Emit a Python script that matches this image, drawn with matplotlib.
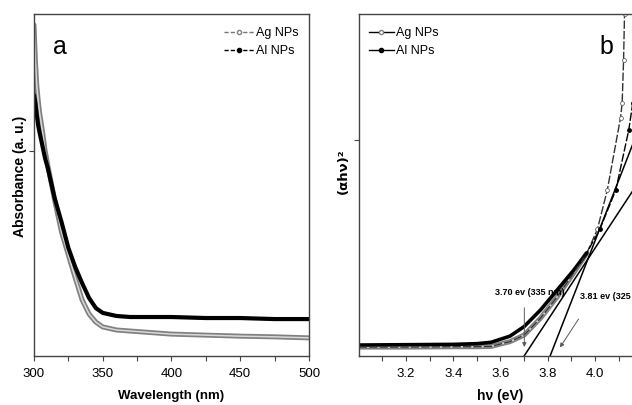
import matplotlib.pyplot as plt
import numpy as np
from matplotlib.lines import Line2D

# panel a: absorbance spectra (a.u., 0-1 scale)
wl = [300, 301, 302, 303, 304, 306, 308, 310, 315, 320, 325, 330, 335, 340,
      345, 350, 360, 370, 380, 400, 425, 450, 475, 500]
abs_ag = [0.968, 0.865, 0.792, 0.749, 0.713, 0.661, 0.602, 0.558, 0.456, 0.363,
          0.295, 0.228, 0.164, 0.123, 0.099, 0.085, 0.076, 0.073, 0.070, 0.064,
          0.061, 0.058, 0.056, 0.053]
abs_al = [0.763, 0.740, 0.705, 0.675, 0.655, 0.617, 0.579, 0.550, 0.462, 0.392,
          0.316, 0.260, 0.213, 0.170, 0.140, 0.126, 0.117, 0.114, 0.114, 0.114,
          0.111, 0.111, 0.108, 0.108]

# panel b: Tauc plot (a.u.)
ev_ag = [3.0, 3.2, 3.4, 3.5, 3.56, 3.64, 3.70, 3.77, 3.84, 3.91, 3.965, 4.01,
         4.052, 4.108, 4.115, 4.121, 4.125]
tauc_ag = [0.026, 0.026, 0.027, 0.027, 0.028, 0.042, 0.061, 0.111, 0.173, 0.243,
           0.300, 0.370, 0.485, 0.696, 0.740, 0.865, 1.0]
ev_al = [3.0, 3.2, 3.4, 3.5, 3.56, 3.64, 3.70, 3.77, 3.84, 3.91, 3.965, 4.02,
         4.088, 4.143, 4.16]
tauc_al = [0.032, 0.033, 0.034, 0.036, 0.040, 0.058, 0.086, 0.135, 0.193, 0.251,
           0.301, 0.370, 0.485, 0.661, 0.740]

# band gap tangents (x-intercept, slope)
gap_ag, slope_ag = 3.70, 1.05
gap_al, slope_al = 3.81, 1.77

plt.rcParams['font.family'] = ['Liberation Sans', 'DejaVu Sans']

fig = plt.figure(figsize=(6.32, 4.05), dpi=100)
ax1 = fig.add_axes([0.0538, 0.121, 0.4351, 0.8444])
ax2 = fig.add_axes([0.5676, 0.121, 0.4486, 0.8444])

for ax in (ax1, ax2):
    for s in ax.spines.values():
        s.set_color('#444444')
        s.set_linewidth(1.0)
    ax.tick_params(which='both', direction='out', length=3.5, width=0.8,
                   color='#444444', labelsize=9.5, pad=5)
    ax.tick_params(axis='y', labelleft=False)
    ax.set_ylim(0, 1)

# ---- panel a
ax1.plot(wl, abs_ag, color='0.5', lw=3.6, solid_capstyle='round')
ax1.plot(wl, abs_ag, color='0.85', lw=1.1)
ax1.plot(wl, abs_al, color='black', lw=3.0, solid_capstyle='round')
ax1.set_xlim(300, 500)
ax1.set_xticks([300, 350, 400, 450, 500])
ax1.set_xticks([325, 375, 425, 475], minor=True)
ax1.set_yticks([0.6])
ax1.text(0.095, 0.905, 'a', transform=ax1.transAxes, fontsize=18,
         ha='center', va='center')
h1 = [Line2D([], [], color='0.45', ls=(0, (3, 1.5)), lw=1, marker='o', ms=3,
             mfc='white', mec='0.5'),
      Line2D([], [], color='black', ls=(0, (3, 1.5)), lw=1, marker='o', ms=3,
             mfc='black', mec='black')]
ax1.legend(h1, ['Ag NPs', 'Al NPs'], loc='upper right', frameon=False,
           fontsize=9, handlelength=2.4, handletextpad=0.2,
           borderaxespad=0.4, labelspacing=0.45, bbox_to_anchor=(1.0, 0.99))

# ---- panel b
ev_ag_a = np.array(ev_ag)
ev_al_a = np.array(ev_al)
t_ag = np.array(tauc_ag)
t_al = np.array(tauc_al)
low_ag = ev_ag_a <= 3.97
low_al = ev_al_a <= 3.97
ax2.plot(ev_ag_a[low_ag], t_ag[low_ag], color='0.5', lw=3.6,
         solid_capstyle='round')
ax2.plot(ev_ag_a[low_ag], t_ag[low_ag], color='0.85', lw=1.1)
ax2.plot(ev_al_a[low_al], t_al[low_al], color='black', lw=2.6,
         solid_capstyle='round')
ax2.plot(ev_ag, tauc_ag, color='#333333', lw=1.0, ls=(0, (6, 1.5)),
         marker='o', ms=2.8, mfc='white', mec='0.4', mew=0.6,
         markevery=slice(11, None))
ax2.plot(ev_al, tauc_al, color='black', lw=1.0, ls=(0, (6, 1.5)),
         marker='o', ms=2.5, mfc='black', mec='black',
         markevery=slice(11, None))

xt = np.array([3.0, 4.2])
ax2.plot(xt, slope_ag * (xt - gap_ag), color='black', lw=1.1)
ax2.plot(xt, slope_al * (xt - gap_al), color='black', lw=1.1)

ax2.annotate('', xy=(3.701, 0.018), xytext=(3.701, 0.149),
             arrowprops=dict(arrowstyle='-|>', color='0.35', lw=0.7,
                             mutation_scale=6))
ax2.annotate('', xy=(3.845, 0.018), xytext=(3.937, 0.115),
             arrowprops=dict(arrowstyle='-|>', color='0.35', lw=0.7,
                             mutation_scale=6))
ax2.text(3.725, 0.187, '3.70 ev (335 nm)', fontsize=6.5, fontweight='bold',
         ha='center', va='center')
ax2.text(3.937, 0.175, '3.81 ev (325 nm)', fontsize=6.5, fontweight='bold',
         ha='left', va='center')

ax2.set_xlim(3.0, 4.2)
ax2.set_xticks([3.2, 3.4, 3.6, 3.8, 4.0])
ax2.set_xticks([3.1, 3.3, 3.5, 3.7, 3.9, 4.1], minor=True)
ax2.set_yticks([0.632])
ax2.text(0.875, 0.905, 'b', transform=ax2.transAxes, fontsize=18,
         ha='center', va='center')
h2 = [Line2D([], [], color='black', lw=1, marker='o', ms=3,
             mfc='white', mec='0.5'),
      Line2D([], [], color='black', lw=1, marker='o', ms=3,
             mfc='black', mec='black')]
ax2.legend(h2, ['Ag NPs', 'Al NPs'], loc='upper left', frameon=False,
           fontsize=9, handlelength=2.0, handletextpad=0.2,
           borderaxespad=0.4, labelspacing=0.45, bbox_to_anchor=(0.0, 0.99))

# axis labels
fig.text(20 / 632, 1 - 176 / 405, 'Absorbance (a. u.)', rotation=90,
         ha='center', va='center', fontsize=10, fontweight='bold')
fig.text(343 / 632, 1 - 171 / 405, '(αhν)²', rotation=90,
         ha='center', va='center', fontsize=9.5, fontweight='bold',
         family=['DejaVu Sans'])
fig.text(171 / 632, 1 - 396 / 405, 'Wavelength (nm)', ha='center',
         va='center', fontsize=9.5, fontweight='bold')
fig.text(500 / 632, 1 - 396 / 405, 'hν (eV)', ha='center', va='center',
         fontsize=10, fontweight='bold')

fig.savefig('out.png', dpi=100)
